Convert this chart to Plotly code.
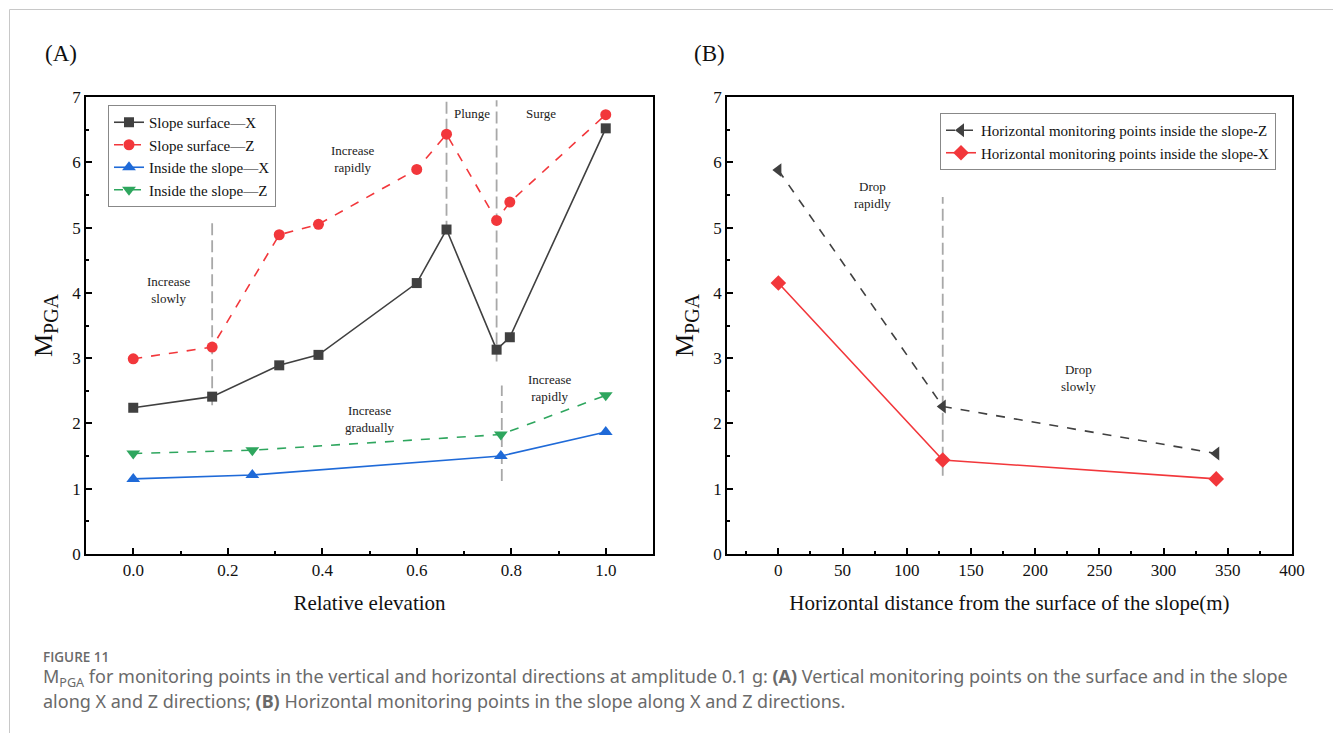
import plotly.graph_objects as go

W, H = 1333, 733

# ---------------- Panel A data ----------------
surf_x_x = [0.0, 0.167, 0.309, 0.392, 0.600, 0.663, 0.769, 0.797, 1.0]
surf_x_y = [2.24, 2.41, 2.89, 3.05, 4.15, 4.97, 3.13, 3.32, 6.52]
surf_z_x = [0.0, 0.167, 0.309, 0.392, 0.600, 0.663, 0.769, 0.797, 1.0]
surf_z_y = [2.99, 3.17, 4.89, 5.05, 5.89, 6.43, 5.11, 5.39, 6.73]
ins_x_x = [0.0, 0.252, 0.778, 1.0]
ins_x_y = [1.15, 1.21, 1.50, 1.87]
ins_z_x = [0.0, 0.252, 0.778, 1.0]
ins_z_y = [1.54, 1.59, 1.83, 2.43]

# guide lines panel A: x, y0, y1
guideA_x = [0.167, 0.663, 0.769, 0.780]
guideA_y0 = [2.28, 4.92, 2.95, 1.12]
guideA_y1 = [5.08, 6.95, 6.95, 2.58]

# annotations panel A
annA_text = ["Increase<br>slowly", "Increase<br>rapidly", "Plunge", "Surge",
             "Increase<br>gradually", "Increase<br>rapidly"]
annA_x = [0.076, 0.465, 0.716, 0.863, 0.500, 0.882]
annA_y = [4.05, 6.05, 6.74, 6.74, 2.07, 2.55]

# ---------------- Panel B data ----------------
horiz_z_x = [0, 128, 341]
horiz_z_y = [5.88, 2.26, 1.54]
horiz_x_x = [0, 128, 341]
horiz_x_y = [4.15, 1.44, 1.15]

guideB_x = [128]
guideB_y0 = [1.2]
guideB_y1 = [5.47]

annB_text = ["Drop<br>rapidly", "Drop<br>slowly"]
annB_x = [73, 234]
annB_y = [5.5, 2.7]

DARK = "#404040"
RED = "#f2373b"
BLUE = "#1f6ad8"
GREEN = "#2ea65e"
GUIDE = "#a8a8a8"
SERIF = "Liberation Serif, Times New Roman, serif"
SANS = "Open Sans, Noto Sans, sans-serif"

fig = go.Figure()

fig.add_trace(go.Scatter(x=surf_x_x, y=surf_x_y, mode="lines+markers", name="Slope surface—X",
                         line=dict(color=DARK, width=1.6), marker=dict(symbol="square", size=10, color=DARK),
                         xaxis="x", yaxis="y", legend="legend"))
fig.add_trace(go.Scatter(x=surf_z_x, y=surf_z_y, mode="lines+markers", name="Slope surface—Z",
                         line=dict(color=RED, width=1.6, dash="dash"), marker=dict(symbol="circle", size=11, color=RED),
                         xaxis="x", yaxis="y", legend="legend"))
fig.add_trace(go.Scatter(x=ins_x_x, y=ins_x_y, mode="lines+markers", name="Inside the slope—X",
                         line=dict(color=BLUE, width=1.6), marker=dict(symbol="triangle-up", size=12, color=BLUE),
                         xaxis="x", yaxis="y", legend="legend"))
fig.add_trace(go.Scatter(x=ins_z_x, y=ins_z_y, mode="lines+markers", name="Inside the slope—Z",
                         line=dict(color=GREEN, width=1.6, dash="dash"), marker=dict(symbol="triangle-down", size=12, color=GREEN),
                         xaxis="x", yaxis="y", legend="legend"))

fig.add_trace(go.Scatter(x=horiz_z_x, y=horiz_z_y, mode="lines+markers", name="Horizontal monitoring points inside the slope-Z",
                         line=dict(color=DARK, width=1.6, dash="dash"), marker=dict(symbol="triangle-left", size=12, color=DARK),
                         xaxis="x2", yaxis="y2", legend="legend2"))
fig.add_trace(go.Scatter(x=horiz_x_x, y=horiz_x_y, mode="lines+markers", name="Horizontal monitoring points inside the slope-X",
                         line=dict(color=RED, width=1.6), marker=dict(symbol="diamond", size=12, color=RED),
                         xaxis="x2", yaxis="y2", legend="legend2"))

shapes = []
for gx, g0, g1 in zip(guideA_x, guideA_y0, guideA_y1):
    shapes.append(dict(type="line", xref="x", yref="y", x0=gx, x1=gx, y0=g0, y1=g1,
                       line=dict(color=GUIDE, width=1.8, dash="12px,5px"), layer="below"))
for gx, g0, g1 in zip(guideB_x, guideB_y0, guideB_y1):
    shapes.append(dict(type="line", xref="x2", yref="y2", x0=gx, x1=gx, y0=g0, y1=g1,
                       line=dict(color=GUIDE, width=1.8, dash="12px,5px"), layer="below"))
# outer frame
shapes.append(dict(type="rect", xref="paper", yref="paper", x0=9.5 / W, x1=1.02, y0=-0.02, y1=1 - 9.5 / H,
                   line=dict(color="#c8c8c8", width=1)))

annotations = []
for t, ax_, ay_ in zip(annA_text, annA_x, annA_y):
    annotations.append(dict(text=t, x=ax_, y=ay_, xref="x", yref="y", showarrow=False,
                            font=dict(family=SERIF, size=13, color="#222")))
for t, ax_, ay_ in zip(annB_text, annB_x, annB_y):
    annotations.append(dict(text=t, x=ax_, y=ay_, xref="x2", yref="y2", showarrow=False,
                            font=dict(family=SERIF, size=13, color="#222")))

annotations += [
    dict(text="(A)", x=43 / W, y=1 - 54 / H, xref="paper", yref="paper", xanchor="left", yanchor="middle",
         showarrow=False, font=dict(family=SERIF, size=23, color="#111")),
    dict(text="(B)", x=692 / W, y=1 - 54 / H, xref="paper", yref="paper", xanchor="left", yanchor="middle",
         showarrow=False, font=dict(family=SERIF, size=23, color="#111")),
    dict(text="FIGURE 11", x=41 / W, y=1 - 657 / H, xref="paper", yref="paper", xanchor="left", yanchor="middle",
         showarrow=False, font=dict(family=SANS, size=13.5, color="#6a6a6a", weight=600)),
    dict(text="M<sub>PGA</sub> for monitoring points in the vertical and horizontal directions at amplitude 0.1 g: "
              "<b>(A)</b> Vertical monitoring points on the surface and in the slope",
         x=41 / W, y=1 - 677 / H, xref="paper", yref="paper", xanchor="left", yanchor="middle",
         showarrow=False, font=dict(family="Noto Sans", size=18, color="#6a6a6a")),
    dict(text="along X and Z directions; <b>(B)</b> Horizontal monitoring points in the slope along X and Z directions.",
         x=41 / W, y=1 - 701 / H, xref="paper", yref="paper", xanchor="left", yanchor="middle",
         showarrow=False, font=dict(family="Noto Sans", size=18, color="#6a6a6a")),
]

axis_common = dict(showline=True, linecolor="black", linewidth=1.6, mirror=True, showgrid=False, zeroline=False,
                   automargin=False,
                   ticks="inside", ticklen=6, tickwidth=1.5, tickcolor="black",
                   tickfont=dict(family=SERIF, size=17, color="#111"),
                   title_font=dict(family=SERIF, size=21, color="#111"))

yd = [1 - 554 / H, 1 - 97 / H]
ytitle = "M<sub><span style='font-size:20px'>PGA</span></sub>"

fig.update_layout(
    template="none",
    width=W, height=H, margin=dict(l=0, r=0, t=0, b=0, pad=0, autoexpand=False),
    paper_bgcolor="white", plot_bgcolor="white",
    xaxis=dict(axis_common, domain=[86 / W, 653 / W], range=[-0.1, 1.1], dtick=0.2, tickformat=".1f",
               minor=dict(ticks="inside", dtick=0.1, ticklen=3, tickwidth=1.5, tickcolor="black"),
               title=dict(text="Relative elevation", standoff=16), anchor="y"),
    yaxis=dict(axis_common, domain=yd, range=[0, 7], dtick=1,
               minor=dict(ticks="inside", dtick=0.5, ticklen=3, tickwidth=1.5, tickcolor="black"),
               title=dict(text=ytitle, standoff=12, font=dict(family=SERIF, size=26, color="#111")),
               anchor="x"),
    xaxis2=dict(axis_common, domain=[727 / W, 1292 / W], range=[-40, 400], dtick=50,
                minor=dict(ticks="inside", dtick=25, ticklen=3, tickwidth=1.5, tickcolor="black"),
                title=dict(text="Horizontal distance from the surface of the slope(m)", standoff=16), anchor="y2"),
    yaxis2=dict(axis_common, domain=yd, range=[0, 7], dtick=1,
                minor=dict(ticks="inside", dtick=0.5, ticklen=3, tickwidth=1.5, tickcolor="black"),
                title=dict(text=ytitle, standoff=12, font=dict(family=SERIF, size=26, color="#111")),
                anchor="x2"),
    legend=dict(x=108 / W, y=1 - 105 / H, xanchor="left", yanchor="top", bgcolor="white",
                bordercolor="#888", borderwidth=1, font=dict(family=SERIF, size=15, color="#111"),
                tracegroupgap=0, itemwidth=30),
    legend2=dict(x=940 / W, y=1 - 113 / H, xanchor="left", yanchor="top", bgcolor="white",
                 bordercolor="#888", borderwidth=1, font=dict(family=SERIF, size=15, color="#111"),
                 tracegroupgap=0, itemwidth=30),
    shapes=shapes, annotations=annotations, showlegend=True, hovermode=False,
)

fig.write_html("out.html", config={"displayModeBar": False, "responsive": False},
               post_script="document.body.style.margin='0';document.body.style.padding='0';"
                           "document.documentElement.style.overflow='hidden';")
